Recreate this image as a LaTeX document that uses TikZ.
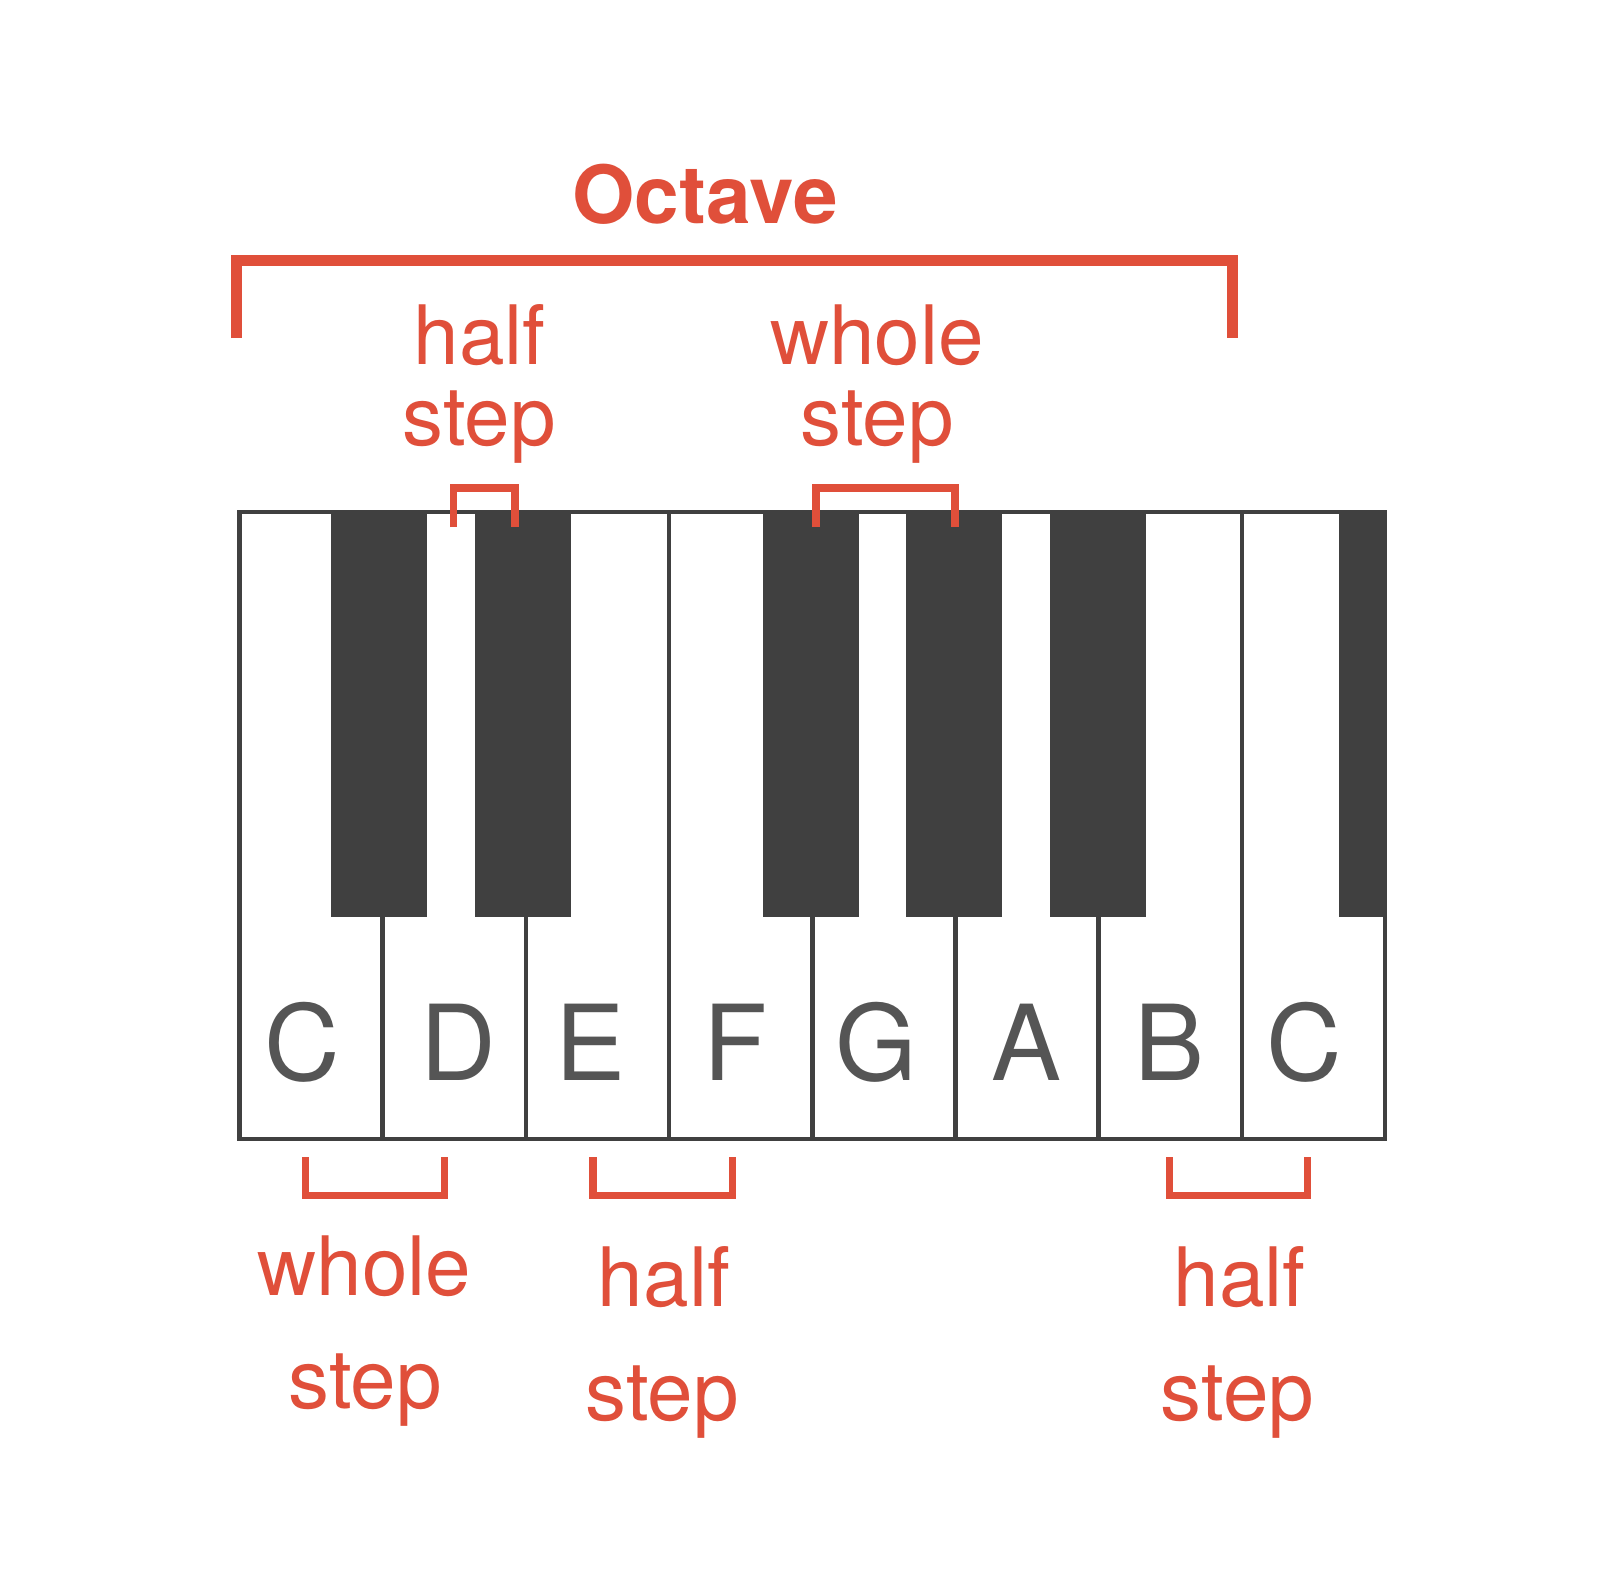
\documentclass[tikz,border=0pt]{standalone}
\usepackage{fontspec}
\setmainfont{TeX Gyre Heros}
\definecolor{accent}{RGB}{224,79,58}
\definecolor{keygray}{RGB}{64,64,64}
\definecolor{notegray}{RGB}{85,85,85}

\begin{document}
\begin{tikzpicture}[x=0.01cm, y=-0.01cm,
    bracket/.style={draw=accent, line width=2pt},
    lbl/.style={text=accent, anchor=base, inner sep=0pt, font=\fontsize{23.3}{28}\selectfont},
    note/.style={text=notegray, anchor=base, inner sep=0pt, font=\fontsize{29.8}{36}\selectfont}]
  \fill [white] (0, 0) rectangle (1600, 1588);
  \useasboundingbox (0, 0) rectangle (1600, 1588);

  % keys
  \foreach \i in {0, ..., 7}
    \draw [keygray, line width=1.3pt, fill=white] (239.5 + 143.2*\i, 512) rectangle ++(143.2, 627);
  \foreach \x in {331, 475, 763, 906, 1050}
    \fill [keygray] (\x, 512) rectangle ++(96, 405);
  \fill [keygray] (1339, 512) rectangle (1385, 917);
  \foreach \n/\x [count=\i] in {C/302, D/458, E/590, F/736, G/876, A/1026, B/1169, C/1304}
    \node [note] (note\i) at (\x, 1080) {\n};

  % octave
  \node [text=accent, anchor=base, inner sep=0pt, font=\bfseries\fontsize{22.8}{27}\selectfont] (octave) at (705, 224) {Octave};
  \draw [accent, line width=3.1pt] (236.5, 338) -- (236.5, 260.5) -- (1232.5, 260.5) -- (1232.5, 338);

  % steps above
  \draw [bracket] (453.5, 527) -- (453.5, 488) -- (515, 488) -- (515, 527);
  \draw [bracket] (816, 527) -- (816, 488) -- (955, 488) -- (955, 527);
  \node [lbl] (half1) at (479.5, 364) {half};
  \node [lbl] (step1) at (479, 445) {step};
  \node [lbl] (whole1) at (877, 364) {whole};
  \node [lbl] (step2) at (877, 445) {step};

  % steps below
  \draw [bracket] (305.5, 1157) -- (305.5, 1195.5) -- (444.5, 1195.5) -- (444.5, 1157);
  \draw [bracket] (593, 1157) -- (593, 1195.5) -- (732.5, 1195.5) -- (732.5, 1157);
  \draw [bracket] (1169, 1157) -- (1169, 1195.5) -- (1307.5, 1195.5) -- (1307.5, 1157);
  \node [lbl] (whole2) at (364.5, 1295) {whole};
  \node [lbl] (step3) at (365, 1408) {step};
  \node [lbl] (half2) at (664, 1306) {half};
  \node [lbl] (step4) at (662, 1420) {step};
  \node [lbl] (half3) at (1239.5, 1306) {half};
  \node [lbl] (step5) at (1237.5, 1420) {step};
\end{tikzpicture}
\end{document}
